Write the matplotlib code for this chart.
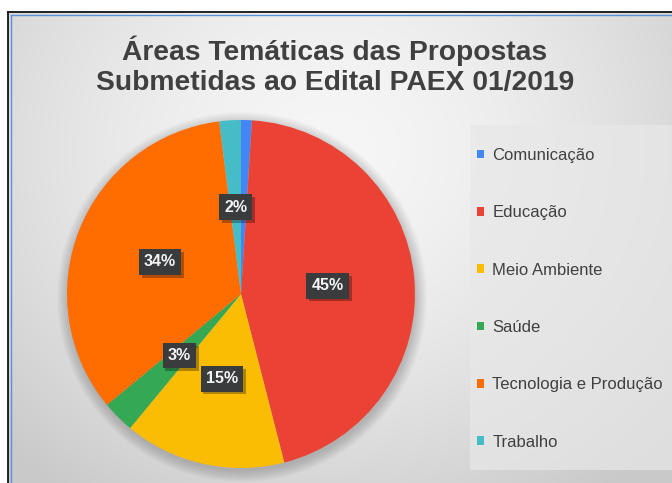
import numpy as np
import matplotlib
matplotlib.use("Agg")
import matplotlib.pyplot as plt
from matplotlib.patches import Rectangle, Circle, Patch
import matplotlib.patheffects as pe

plt.rcParams['font.family'] = ['Liberation Sans', 'DejaVu Sans']

# ---- data ----
categories = ["Comunicação", "Educação", "Meio Ambiente", "Saúde",
              "Tecnologia e Produção", "Trabalho"]
values = [1, 45, 15, 3, 34, 2]
pct_labels = ["", "45%", "15%", "3%", "34%", "2%"]
colors = ["#4285F4", "#EA4335", "#FBBC04", "#34A853", "#FF6D01", "#46BDC6"]
title = "Áreas Temáticas das Propostas\nSubmetidas ao Edital PAEX 01/2019"

W, H = 672, 483
fig = plt.figure(figsize=(W / 100, H / 100), dpi=100)
fig.patch.set_facecolor("white")

# background / frame in pixel coords
bg = fig.add_axes([0, 0, 1, 1])
yy, xx = np.mgrid[0:H, 0:W]
d = np.sqrt(((xx - 330) / 1.0) ** 2 + ((yy - 150) / 0.9) ** 2)
shade = np.clip(0.965 - 0.15 * (d / 420) ** 1.6, 0.79, 0.97)
img = np.dstack([shade, shade, shade])
bg.imshow(img[12:, 8:], extent=(8, W, H, 12), zorder=0, interpolation="bilinear")
bg.plot([8, 8], [H, 12], color="black", lw=1.2, zorder=5)
bg.plot([8, W], [12, 12], color="black", lw=1.2, zorder=5)
bg.plot([11, 11], [H, 15], color="#5b8fd6", lw=1.0, zorder=5)
bg.plot([11, W], [15, 15], color="#5b8fd6", lw=1.0, zorder=5)
bg.set_xlim(0, W)
bg.set_ylim(H, 0)
bg.axis("off")

# soft pie shadow
for i in range(12):
    bg.add_patch(Circle((242, 297), 174 + i, color="black", alpha=0.016, lw=0, zorder=1))

# legend panel
bg.add_patch(Rectangle((470, 125), W - 470, 345, facecolor="#e8e8e8", alpha=0.7,
                       edgecolor="none", zorder=2))

# title
fig.text(335 / W, 1 - 66 / H, title, ha="center", va="center",
         fontsize=20.3, fontweight="bold", color="#404040", linespacing=1.2)

# pie
cx, cy, r = 241, 294, 174
ax = fig.add_axes([(cx - r) / W, (H - cy - r) / H, 2 * r / W, 2 * r / H])
ax.set_facecolor("none")
wedges, _ = ax.pie(values, colors=colors, startangle=90, counterclock=False,
                   radius=1, wedgeprops=dict(linewidth=0))
ax.set_xlim(-1, 1)
ax.set_ylim(-1, 1)
ax.set_aspect("equal")
ax.axis("off")

for w, lab in zip(wedges, pct_labels):
    if not lab:
        continue
    ang = np.deg2rad(0.5 * (w.theta1 + w.theta2))
    x, y = 0.5 * np.cos(ang), 0.5 * np.sin(ang)
    t = ax.text(x, y, lab, ha="center", va="center", fontsize=11.5, fontweight="bold",
                color="#f4f4f4",
                bbox=dict(boxstyle="square,pad=0.33", fc="#3a3b3d", ec="none"))
    t.get_bbox_patch().set_path_effects(
        [pe.SimplePatchShadow(offset=(2, -2), shadow_rgbFace="black", alpha=0.3),
         pe.Normal()])

handles = [Patch(facecolor=c, edgecolor="none") for c in colors]
fig.legend(handles, categories, loc="upper left", bbox_to_anchor=(477 / W, 1 - 148 / H),
           frameon=False, fontsize=12, labelcolor="#404040", labelspacing=2.54,
           handlelength=0.42, handleheight=0.42, handletextpad=0.5, borderpad=0,
           borderaxespad=0)

fig.savefig("out.png", dpi=100)
